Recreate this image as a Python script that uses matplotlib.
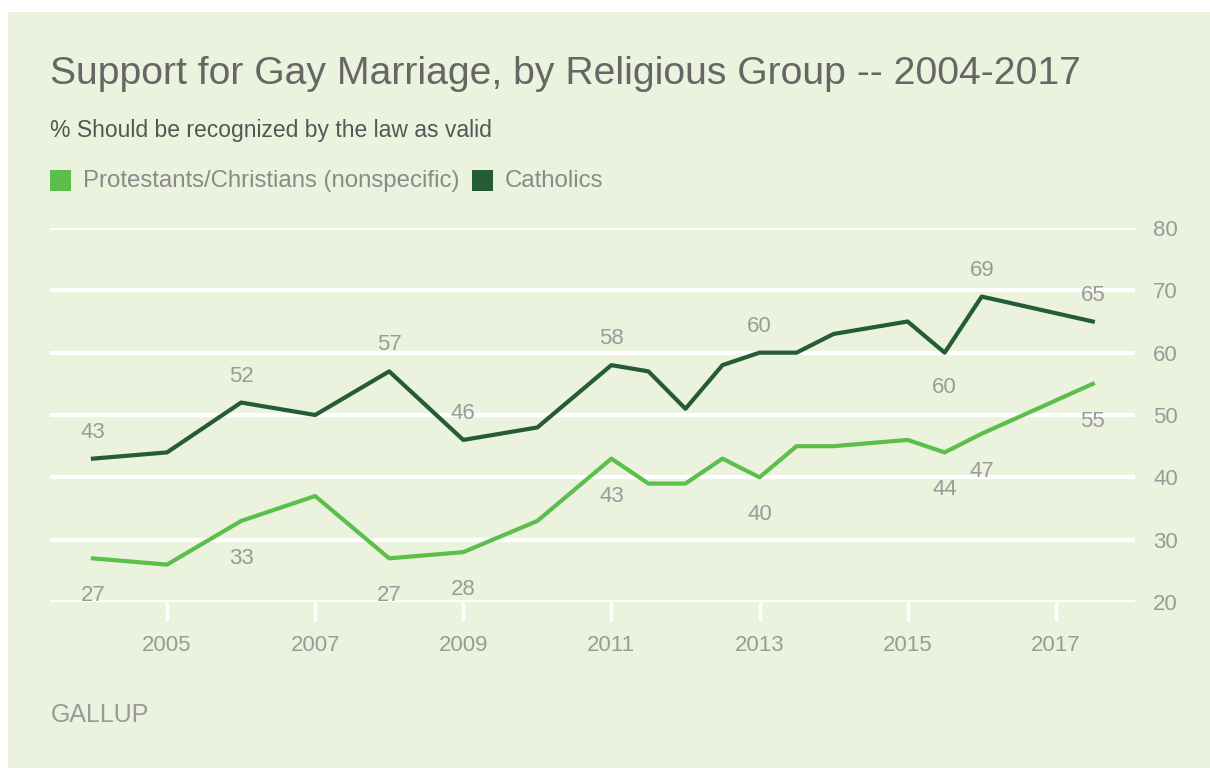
import numpy as np
import matplotlib
matplotlib.use('Agg')
import matplotlib.pyplot as plt
from matplotlib.patches import Rectangle

# data
years = [2004, 2005, 2006, 2007, 2008, 2009, 2010, 2011, 2011.5, 2012,
         2012.5, 2013, 2013.5, 2014, 2015, 2015.5, 2016, 2017.5]
catholics = [43, 44, 52, 50, 57, 46, 48, 58, 57, 51, 58, 60, 60, 63, 65, 60, 69, 65]
protestants = [27, 26, 33, 37, 27, 28, 33, 43, 39, 39, 43, 40, 45, 45, 46, 44, 47, 55]

# which points get a value label, and above (+1) or below (-1) the line
cath_labels = {2004: 1, 2006: 1, 2008: 1, 2009: 1, 2011: 1, 2013: 1, 2015.5: -1, 2016: 1, 2017.5: 1}
prot_labels = {2004: -1, 2006: -1, 2008: -1, 2009: -1, 2011: -1, 2013: -1, 2015.5: -1, 2016: -1, 2017.5: -1}

xticks = [2005, 2007, 2009, 2011, 2013, 2015, 2017]
yticks = [20, 30, 40, 50, 60, 70, 80]

BG = '#ebf2de'
LIGHT = '#5cbf4b'
DARK = '#245c35'
plt.rcParams['font.family'] = ['Liberation Sans', 'DejaVu Sans']

W, H = 1210, 768
fig = plt.figure(figsize=(W / 100, H / 100), dpi=100, facecolor='white')
fig.patches.append(Rectangle((8 / W, 0), 1 - 8 / W, 1 - 12 / H, transform=fig.transFigure,
                             facecolor=BG, edgecolor='none', zorder=-10))

ax = fig.add_axes([50 / W, 166 / H, 1085 / W, 374 / H])
ax.patch.set_alpha(0)
ax.set_xlim(2003.42, 2018.07)
ax.set_ylim(20, 80)
for s in ax.spines.values():
    s.set_visible(False)

ax.set_yticks(yticks)
ax.yaxis.tick_right()
ax.tick_params(axis='y', length=0, pad=13, labelsize=16, labelcolor='#9a9a9a')
ax.grid(axis='y', color='white', linewidth=3)
ax.set_axisbelow(True)

ax.set_xticks(xticks)
ax.tick_params(axis='x', length=14, width=2.5, color='white', pad=10, labelsize=16, labelcolor='#9a9a9a')

ax.plot(years, protestants, color=LIGHT, linewidth=3, clip_on=False, zorder=3)
ax.plot(years, catholics, color=DARK, linewidth=3, clip_on=False, zorder=3)

def label(vals, marks, up, down):
    for x, v in zip(years, vals):
        if x in marks:
            off = up if marks[x] > 0 else down
            ax.annotate(str(v), (x, v), xytext=(0, off), textcoords='offset points',
                        ha='center', va='center', fontsize=16, color='#9a9a9a')

label(catholics, cath_labels, 19, -25)
label(protestants, prot_labels, 19, -27)

fig.text(50 / W, 1 - 74 / H, 'Support for Gay Marriage, by Religious Group -- 2004-2017',
         fontsize=28.2, color='#666666', va='center', ha='left')
fig.text(50 / W, 1 - 131 / H, '% Should be recognized by the law as valid',
         fontsize=16.5, color='#555555', va='center', ha='left')

# legend
fig.patches.append(Rectangle((50 / W, 1 - 191 / H), 21 / W, 21 / H, transform=fig.transFigure,
                             facecolor=LIGHT, edgecolor='none'))
fig.text(83 / W, 1 - 181 / H, 'Protestants/Christians (nonspecific)',
         fontsize=17.3, color='#8a8a8a', va='center', ha='left')
fig.patches.append(Rectangle((472 / W, 1 - 191 / H), 21 / W, 21 / H, transform=fig.transFigure,
                             facecolor=DARK, edgecolor='none'))
fig.text(505 / W, 1 - 181 / H, 'Catholics', fontsize=17.3, color='#8a8a8a', va='center', ha='left')

fig.text(51 / W, 1 - 715 / H, 'GALLUP', fontsize=18, color='#999999', va='center', ha='left')

fig.savefig('out.png', dpi=100, facecolor=fig.get_facecolor())
